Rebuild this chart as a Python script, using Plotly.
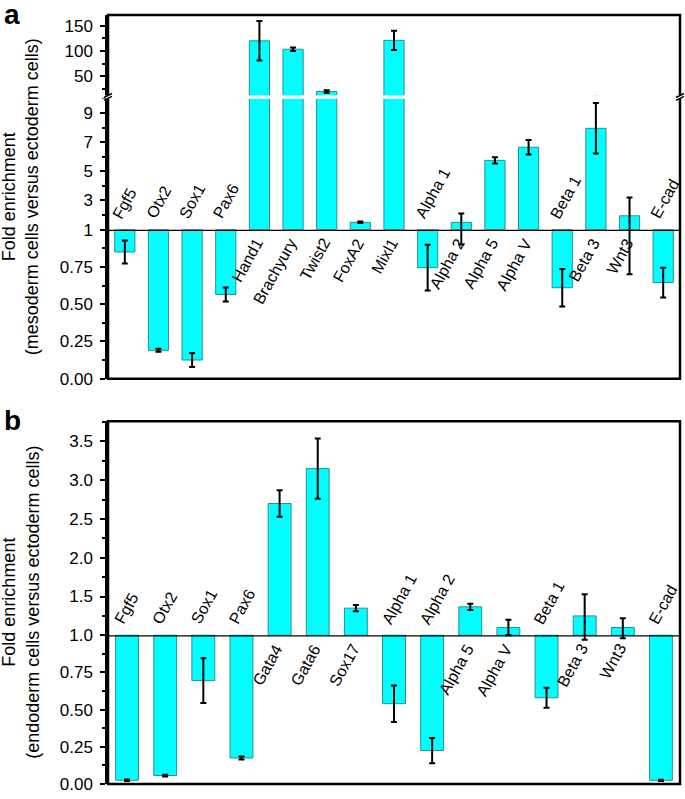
import plotly.graph_objects as go

# ---------------- data ----------------
cats_a = ["Fgf5", "Otx2", "Sox1", "Pax6", "Hand1", "Brachyury", "Twist2", "FoxA2", "Mixl1",
          "Alpha 1", "Alpha 2", "Alpha 5", "Alpha V", "Beta 1", "Beta 3", "Wnt3", "E-cad"]
vals_a = [0.85, 0.19, 0.125, 0.565, 120, 103.5, 20, 1.5, 121,
          0.745, 1.5, 5.75, 6.65, 0.61, 7.95, 1.95, 0.645]
err_a = [0.077, 0.01, 0.047, 0.047, 39, 3.5, 2.5, 0.05, 19,
         0.153, 0.6, 0.22, 0.5, 0.125, 1.73, 1.25, 0.1]

cats_b = ["Fgf5", "Otx2", "Sox1", "Pax6", "Gata4", "Gata6", "Sox17", "Alpha 1", "Alpha 2",
          "Alpha 5", "Alpha V", "Beta 1", "Beta 3", "Wnt3", "E-cad"]
vals_b = [0.025, 0.057, 0.695, 0.175, 2.70, 3.15, 1.35, 0.54, 0.225,
          1.367, 1.10, 0.58, 1.25, 1.10, 0.025]
err_b = [0.005, 0.006, 0.15, 0.01, 0.17, 0.39, 0.04, 0.123, 0.085,
         0.04, 0.1, 0.068, 0.28, 0.12, 0.004]

baseline = 1.0
ytitle_a = "Fold enrichment<br>(mesoderm cells versus ectoderm cells)"
ytitle_b = "Fold enrichment<br>(endoderm cells versus ectoderm cells)"

# ---------------- style ----------------
FONT = "Liberation Sans, Arial, sans-serif"
BAR = "#00FFFF"
EDGE = "#2E8E8E"
LW = 2.5

fig = go.Figure()


def add_bars(cats, vals, errs, xax, yax):
    fig.add_trace(go.Bar(
        x=cats, y=[v - baseline for v in vals], base=baseline,
        xaxis=xax, yaxis=yax, width=0.6,
        marker=dict(color=BAR, line=dict(color=EDGE, width=1)),
        error_y=dict(type="data", array=errs, visible=True, color="black",
                     thickness=2, width=3),
        showlegend=False, hoverinfo="skip"))


for ya in ["y", "y2", "y3"]:
    add_bars(cats_a, vals_a, err_a, "x", ya)
for ya in ["y4", "y5"]:
    add_bars(cats_b, vals_b, err_b, "x2", ya)

# category labels next to the baseline
anns = []
for cats, vals, xr, yr in [(cats_a, vals_a, "x", "y"), (cats_b, vals_b, "x2", "y4")]:
    for c, v in zip(cats, vals):
        up = v >= baseline
        anns.append(dict(
            x=c, y=baseline, xref=xr, yref=yr, text=c, showarrow=False,
            textangle=-61, font=dict(family=FONT, size=16, color="black"),
            borderpad=0,
            xanchor="right" if up else "left",
            yanchor="top" if up else "bottom",
            xshift=8 if up else -17, yshift=-5 if up else 7))

# y titles and panel letters
for txt, yc in [(ytitle_a, 0.7636), (ytitle_b, 0.2364)]:
    anns.append(dict(x=-0.153, y=yc, xref="paper", yref="paper", text=txt,
                     showarrow=False, textangle=-90, xanchor="center", yanchor="middle",
                     font=dict(family=FONT, size=18, color="black")))
for txt, yc in [("<b>a</b>", 1.023), ("<b>b</b>", 0.496)]:
    anns.append(dict(x=-0.186, y=yc, xref="paper", yref="paper", text=txt,
                     showarrow=False, xanchor="left", yanchor="top",
                     font=dict(family=FONT, size=28, color="black")))

# axes
tickfont = dict(family=FONT, size=17, color="black")


def yax(domain, rng, tickvals, ticktext, minor_dtick):
    return dict(domain=domain, range=rng, anchor="x", tickmode="array",
                tickvals=tickvals, ticktext=ticktext, ticks="outside", ticklen=5,
                tickwidth=2, tickcolor="black", showline=True, linewidth=LW,
                linecolor="black", showgrid=False, zeroline=False, tickfont=tickfont,
                ticklabelstandoff=4,
                minor=dict(tickmode="linear", tick0=0, dtick=minor_dtick, ticks="outside",
                           ticklen=3, tickwidth=1.5, tickcolor="black", showgrid=False))


A_BOT, A_ONE, A_GAP0, A_GAP1 = 0.5271, 0.7209, 0.8915, 0.8953
B_ONE, B_TOP = 0.1934, 0.4716

ya1 = yax([A_BOT, A_ONE], [0, 1], [0, 0.25, 0.5, 0.75], ["0.00", "0.25", "0.50", "0.75"], 0.125)
ya2 = yax([A_ONE, A_GAP0], [1, 10], [1, 3, 5, 7, 9], ["1", "3", "5", "7", "9"], 1)
ya3 = yax([A_GAP1, 1.0], [12, 171], [50, 100, 150], ["50", "100", "150"], 25)
yb1 = yax([0, B_ONE], [0, 1], [0, 0.25, 0.5, 0.75], ["0.00", "0.25", "0.50", "0.75"], 0.125)
yb2 = yax([B_ONE, B_TOP], [1, 3.76], [1, 1.5, 2, 2.5, 3, 3.5],
          ["1.0", "1.5", "2.0", "2.5", "3.0", "3.5"], 0.25)
yb1["anchor"] = "x2"
yb2["anchor"] = "x2"

xcommon = dict(domain=[0, 1], showticklabels=False, ticks="", showline=False,
               showgrid=False, zeroline=False, fixedrange=True)

shapes = []
# frames
for y0, y1 in [(A_BOT, 1.0), (0.0, B_TOP)]:
    shapes.append(dict(type="rect", xref="paper", yref="paper", x0=0, x1=1, y0=y0, y1=y1,
                       line=dict(color="black", width=LW), layer="above"))
# baseline lines
for xr, yr in [("x domain", "y"), ("x2 domain", "y4")]:
    shapes.append(dict(type="line", xref=xr, yref=yr, x0=0, x1=1, y0=baseline, y1=baseline,
                       line=dict(color="black", width=LW), layer="above"))
# axis break
shapes.append(dict(type="rect", xref="paper", yref="paper", x0=-0.01, x1=1.01,
                   y0=A_GAP0, y1=A_GAP1, fillcolor="white", line=dict(width=0), layer="above"))
for xa in [0, 1]:
    for ya in [A_GAP0, A_GAP1]:
        shapes.append(dict(type="line", xref="paper", yref="paper",
                           xsizemode="pixel", xanchor=xa, x0=-4, x1=4,
                           ysizemode="pixel", yanchor=ya, y0=-2, y1=2,
                           line=dict(color="black", width=1.5), layer="above"))

fig.update_layout(
    width=685, height=799,
    margin=dict(l=108, r=5, t=15, b=10),
    paper_bgcolor="white", plot_bgcolor="white",
    xaxis=dict(anchor="y", range=[-0.5, 16.5], **xcommon),
    xaxis2=dict(anchor="y4", range=[-0.5, 14.5], **xcommon),
    yaxis=ya1, yaxis2=ya2, yaxis3=ya3, yaxis4=yb1, yaxis5=yb2,
    annotations=anns, shapes=shapes, barmode="overlay", showlegend=False,
    font=dict(family=FONT, color="black"),
)

fig.write_html(
    "out.html",
    config={"displayModeBar": False},
    post_script="document.body.style.margin='0';document.body.style.padding='0';"
                "document.body.style.overflow='hidden';"
                "document.documentElement.style.overflow='hidden';",
)
